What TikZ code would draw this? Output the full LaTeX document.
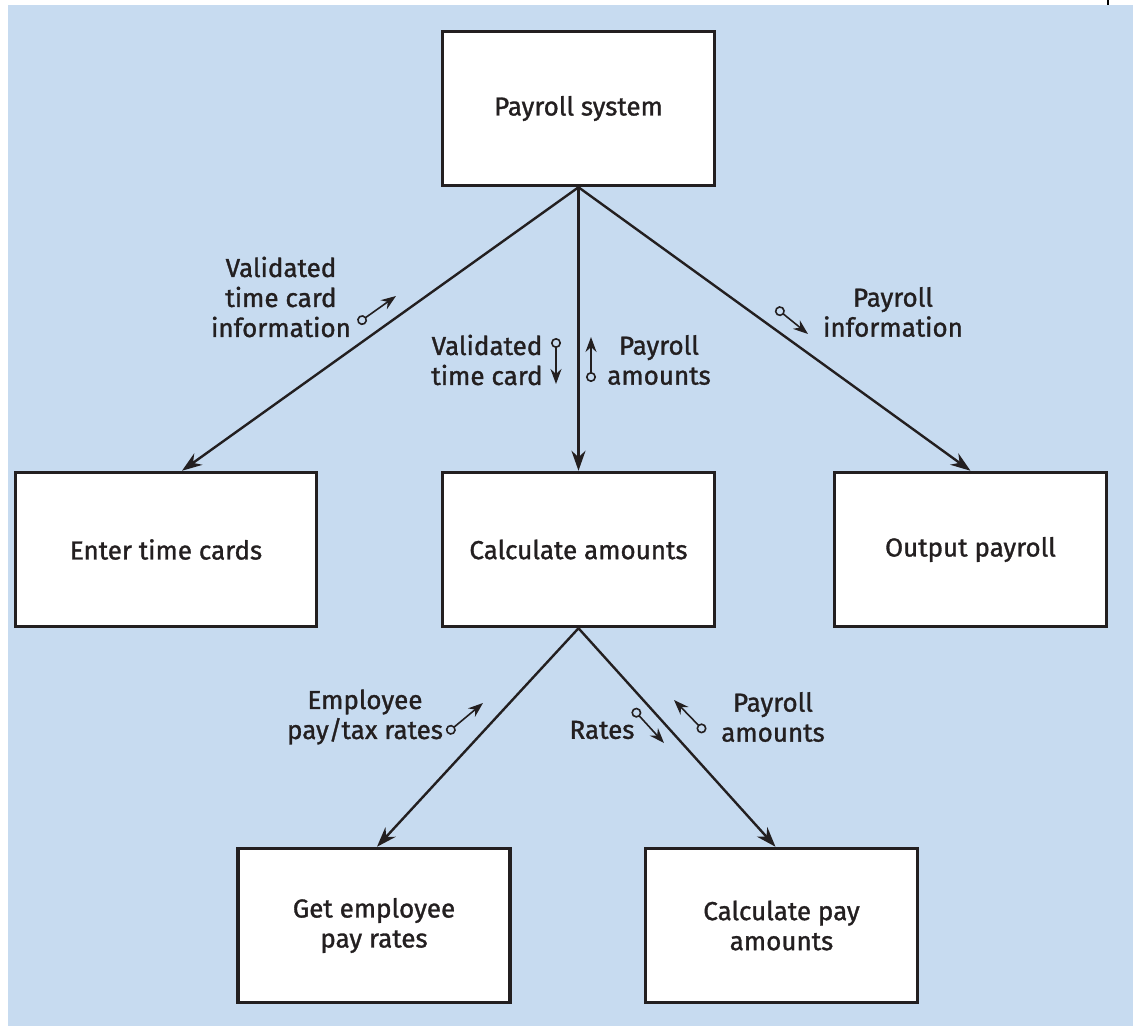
\documentclass[tikz,border=0pt]{standalone}
\usepackage{fontspec}
\newfontfamily\dinfont{Fira Sans}[FakeBold=1.2]
\usetikzlibrary{arrows.meta,calc}
\definecolor{bgblue}{RGB}{199,219,240}
\definecolor{ink}{RGB}{35,31,32}

\begin{document}
\begin{tikzpicture}[x=1pt,y=-1pt,
        box/.style={rectangle, draw=ink, fill=white, line width=3.5pt,
                    minimum width=272pt, minimum height=154pt, align=center,
                    text=ink, font=\dinfont\fontsize{26}{30}\selectfont},
        lbl/.style={align=center, inner sep=0pt, text=ink,
                    font=\dinfont\fontsize{26}{30}\selectfont},
        link/.style={-{Stealth[length=20pt,width=14pt]}, draw=ink, line width=2.4pt},
        flow/.style={{Circle[open,length=10pt,width=10pt]}-{Stealth[length=15pt,width=11pt]},
                     draw=ink, line width=1.6pt}
      ]
        \useasboundingbox (0,0) rectangle (1133,1026);
        \fill[bgblue] (8,5) rectangle (1133,1026);
        \draw[line width=2pt] (1108,0)--(1108,5);
        % boxes
        \node[box] (sys)   at (578.5,108.5) {Payroll system};
        \node[box, minimum width=301pt] (enter) at (166,549.5) {Enter time cards};
        \node[box] (calc)  at (578.5,549.5) {Calculate amounts};
        \node[box] (out)   at (970.5,549.5) {Output payroll};
        \node[box] (rates) at (374,925.5)   {Get employee\\pay rates};
        \node[box] (pay)   at (781.5,925.5) {Calculate pay\\amounts};
        % connectors
        \draw[link] (sys.south) -- ($(enter.north)+(16,0)$);
        \draw[link] (sys.south) -- (calc.north);
        \draw[link] (sys.south) -- (out.north);
        \draw[link] (calc.south) -- ($(rates.north)+(3,0)$);
        \draw[link] (calc.south) -- ($(pay.north)+(-6,0)$);
        % data flows
        \node[lbl] (vtci) at (281,297) {Validated\\time card\\information};
        \draw[flow] (358,323) -- (396,296);
        \node[lbl] (vtc)  at (487,360) {Validated\\time card};
        \draw[flow] (556,338) -- (556,384);
        \node[lbl] (pam)  at (659,360) {Payroll\\amounts};
        \draw[flow] (591,382) -- (591,337);
        \node[lbl] (pinf) at (893,312) {Payroll\\information};
        \draw[flow] (776,308) -- (808,334);
        \node[lbl] (eptr) at (365,717) {Employee\\pay/tax rates};
        \draw[flow] (447,733) -- (483,703);
        \node[lbl] (rt)   at (602,730) {Rates};
        \draw[flow] (633,709) -- (664,743);
        \node[lbl] (pam2) at (773,717) {Payroll\\amounts};
        \draw[flow] (705,732) -- (674,700);
      \end{tikzpicture}
\end{document}
